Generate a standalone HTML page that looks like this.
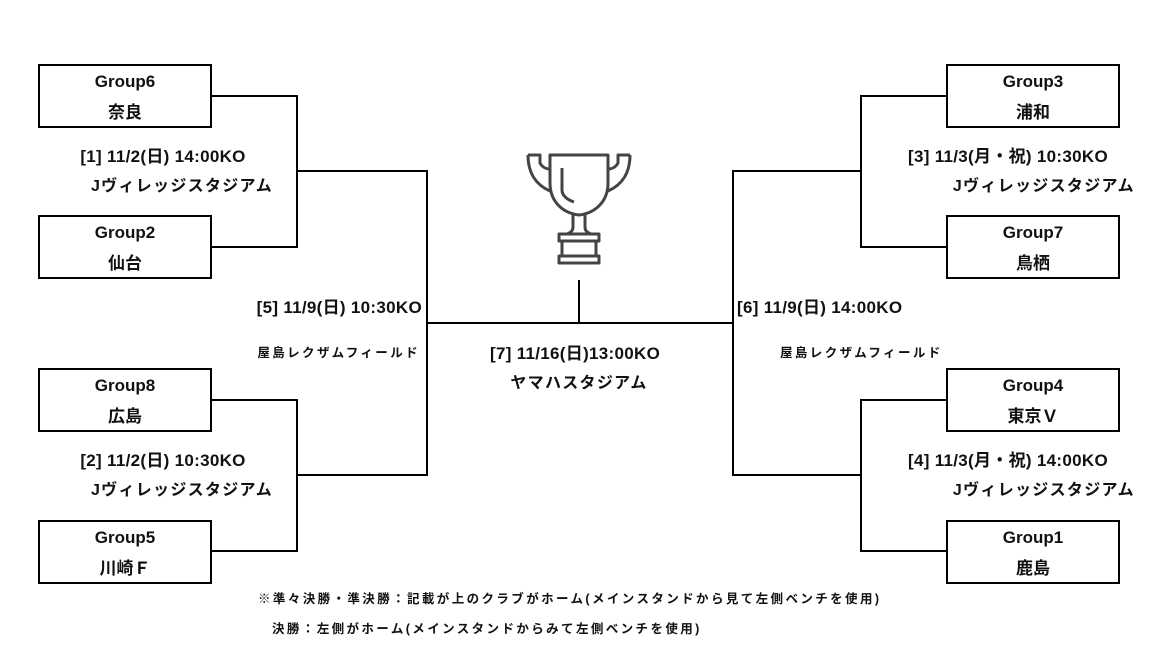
<!DOCTYPE html>
<html><head><meta charset="utf-8"><style>
body{margin:0;width:1176px;height:645px;background:#fff;position:relative;overflow:hidden;font-family:"Liberation Sans","Noto Sans CJK JP",sans-serif;color:#111}
.b{position:absolute;width:170px;height:60px;border:2px solid #000;box-sizing:content-box;text-align:center;font-weight:bold;font-size:17px;line-height:31px}
.l{position:absolute;background:#000}
.t{position:absolute;white-space:nowrap;font-weight:bold;line-height:1}
.m{font-size:17px;letter-spacing:0.3px}
.v{font-size:16px;letter-spacing:1.3px}
.s{font-size:12.5px;letter-spacing:2.4px}
.c{transform:translateX(-50%)}
.r{transform:translateX(-100%)}
</style></head><body>
<div class="b" style="left:38px;top:64px">Group6<br>奈良</div>
<div class="b" style="left:38px;top:215px">Group2<br>仙台</div>
<div class="b" style="left:38px;top:368px">Group8<br>広島</div>
<div class="b" style="left:38px;top:520px">Group5<br>川崎Ｆ</div>
<div class="b" style="left:946px;top:64px">Group3<br>浦和</div>
<div class="b" style="left:946px;top:215px">Group7<br>鳥栖</div>
<div class="b" style="left:946px;top:368px">Group4<br>東京Ｖ</div>
<div class="b" style="left:946px;top:520px">Group1<br>鹿島</div>

<div class="l" style="left:211px;top:95px;width:87px;height:2px"></div>
<div class="l" style="left:211px;top:246px;width:87px;height:2px"></div>
<div class="l" style="left:296px;top:95px;width:2px;height:153px"></div>
<div class="l" style="left:296px;top:170px;width:132px;height:2px"></div>
<div class="l" style="left:211px;top:399px;width:87px;height:2px"></div>
<div class="l" style="left:211px;top:550px;width:87px;height:2px"></div>
<div class="l" style="left:296px;top:399px;width:2px;height:153px"></div>
<div class="l" style="left:296px;top:474px;width:132px;height:2px"></div>
<div class="l" style="left:426px;top:170px;width:2px;height:306px"></div>
<div class="l" style="left:426px;top:322px;width:308px;height:2px"></div>
<div class="l" style="left:578px;top:280px;width:2px;height:43px"></div>
<div class="l" style="left:860px;top:95px;width:87px;height:2px"></div>
<div class="l" style="left:860px;top:246px;width:87px;height:2px"></div>
<div class="l" style="left:860px;top:95px;width:2px;height:153px"></div>
<div class="l" style="left:732px;top:170px;width:130px;height:2px"></div>
<div class="l" style="left:860px;top:399px;width:87px;height:2px"></div>
<div class="l" style="left:860px;top:550px;width:87px;height:2px"></div>
<div class="l" style="left:860px;top:399px;width:2px;height:153px"></div>
<div class="l" style="left:732px;top:474px;width:130px;height:2px"></div>
<div class="l" style="left:732px;top:170px;width:2px;height:306px"></div>

<svg style="position:absolute;left:526px;top:152px" width="106" height="114" viewBox="0 0 106 114" fill="none" stroke="#444" stroke-width="3" stroke-linejoin="round">
<path d="M2 3h12v8c2 4 6 6 10 6M104 3h-12v8c-2 4-6 6-10 6"/>
<path d="M2 3c0 18 8 30 22 36M104 3c0 18-8 30-22 36"/>
<path d="M24 3h58v28c0 18-12 30-29 32c-17-2-29-14-29-32z"/>
<path d="M36 16v22c0 6 6 10 12 12"/>
<path d="M47 63v12c0 4-3 6-6 7M59 63v12c0 4 3 6 6 7"/>
<rect x="33" y="82" width="40" height="7"/>
<rect x="36" y="89" width="34" height="15"/>
<rect x="33" y="104" width="40" height="7"/>
</svg>

<div class="t m c" style="left:163px;top:148px">[1] 11/2(日) 14:00KO</div>
<div class="t v c" style="left:182px;top:179px">Jヴィレッジスタジアム</div>
<div class="t m c" style="left:163px;top:452px">[2] 11/2(日) 10:30KO</div>
<div class="t v c" style="left:182px;top:483px">Jヴィレッジスタジアム</div>
<div class="t m r" style="left:422px;top:299px">[5] 11/9(日) 10:30KO</div>
<div class="t s r" style="left:420px;top:347px">屋島レクザムフィールド</div>
<div class="t m" style="left:908px;top:148px">[3] 11/3(月・祝) 10:30KO</div>
<div class="t v r" style="left:1135px;top:179px">Jヴィレッジスタジアム</div>
<div class="t m" style="left:908px;top:452px">[4] 11/3(月・祝) 14:00KO</div>
<div class="t v r" style="left:1135px;top:483px">Jヴィレッジスタジアム</div>
<div class="t m" style="left:737px;top:299px">[6] 11/9(日) 14:00KO</div>
<div class="t s" style="left:780px;top:347px">屋島レクザムフィールド</div>
<div class="t m" style="left:490px;top:345px">[7] 11/16(日)13:00KO</div>
<div class="t v c" style="left:579px;top:376px">ヤマハスタジアム</div>
<div class="t s" style="left:258px;top:593px">※準々決勝・準決勝：記載が上のクラブがホーム(メインスタンドから見て左側ベンチを使用)</div>
<div class="t s" style="left:272px;top:623px">決勝：左側がホーム(メインスタンドからみて左側ベンチを使用)</div>
</body></html>
